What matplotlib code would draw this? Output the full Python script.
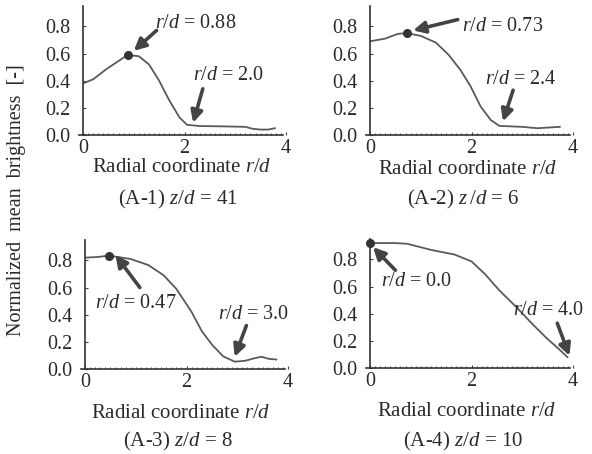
import matplotlib
matplotlib.use("Agg")
import matplotlib.pyplot as plt
from matplotlib.ticker import MultipleLocator, FixedLocator

plt.rcParams['font.family'] = ['Liberation Serif', 'DejaVu Serif']
plt.rcParams['mathtext.fontset'] = 'custom'
plt.rcParams['mathtext.rm'] = 'Liberation Serif'
plt.rcParams['mathtext.it'] = 'Liberation Serif:italic'

# ---------------- data ----------------
r1 = [0.0, 0.2, 0.46, 0.7, 0.88, 1.1, 1.3, 1.5, 1.7, 1.9, 2.05, 2.3, 2.7, 3.2, 3.35, 3.5, 3.65, 3.78]
v1 = [0.38, 0.41, 0.485, 0.545, 0.59, 0.58, 0.52, 0.40, 0.255, 0.13, 0.075, 0.066, 0.064, 0.06, 0.045, 0.04, 0.04, 0.05]

r2 = [0.0, 0.3, 0.55, 0.73, 1.0, 1.3, 1.55, 1.78, 1.98, 2.18, 2.38, 2.55, 3.0, 3.3, 3.74]
v2 = [0.69, 0.71, 0.745, 0.75, 0.73, 0.68, 0.59, 0.48, 0.36, 0.21, 0.11, 0.067, 0.06, 0.05, 0.06]

r3 = [0.0, 0.25, 0.47, 0.9, 1.25, 1.55, 1.8, 2.1, 2.3, 2.5, 2.72, 2.95, 3.15, 3.35, 3.48, 3.62, 3.77]
v3 = [0.82, 0.825, 0.835, 0.81, 0.765, 0.69, 0.59, 0.42, 0.28, 0.18, 0.094, 0.054, 0.06, 0.08, 0.09, 0.075, 0.07]

r4 = [0.0, 0.5, 0.73, 1.2, 1.67, 2.0, 2.27, 2.54, 2.88, 3.21, 3.48, 3.75, 3.89]
v4 = [0.92, 0.92, 0.915, 0.87, 0.835, 0.785, 0.69, 0.575, 0.45, 0.32, 0.22, 0.13, 0.08]

curves_r = [r1, r2, r3, r4]
curves_v = [v1, v2, v3, v4]
mark_r = [0.88, 0.73, 0.47, 0.0]
mark_v = [0.59, 0.75, 0.835, 0.92]

titles = ['(A-1) $z/d$ = 41', '(A-2) $z\\,/d$ = 6', '(A-3) $z/d$ = 8', '(A-4) $z/d$ = 10']
xlabel_text = 'Radial coordinate $r/d$'
ylabel_text = 'Normalized  mean  brightness  [-]'
xticks = [0, 2, 4]
yticks = [0.0, 0.2, 0.4, 0.6, 0.8]
ytick_labels = ['0.0', '0.2', '0.4', '0.6', '0.8']

# annotations: (label, text xy, arrow tail, arrow head)
annots = [
    [('$r/d$ = 0.88', (1.42, 0.82), (1.45, 0.77), (1.0, 0.62)),
     ('$r/d$ = 2.0', (2.17, 0.44), (2.36, 0.34), (2.17, 0.09))],
    [('$r/d$ = 0.73', (1.81, 0.80), (1.73, 0.85), (0.85, 0.77)),
     ('$r/d$ = 2.4', (2.27, 0.41), (2.82, 0.33), (2.62, 0.10))],
    [('$r/d$ = 0.47', (0.2, 0.48), (1.08, 0.60), (0.6, 0.84)),
     ('$r/d$ = 3.0', (2.62, 0.40), (3.18, 0.32), (2.95, 0.09))],
    [('$r/d$ = 0.0', (0.22, 0.64), (0.5, 0.72), (0.06, 0.89)),
     ('$r/d$ = 4.0', (2.82, 0.42), (3.69, 0.33), (3.93, 0.09))],
]

# ---------------- layout ----------------
W, H = 592, 454
fig = plt.figure(figsize=(W / 100, H / 100), dpi=100)
fig.patch.set_facecolor('white')

# axes boxes in pixels: left, top, width, height
boxes = [(83, 6, 203, 129), (370, 6, 203, 129), (85, 240, 203, 129), (370, 239, 203, 129)]
xlab_pos = [(182, 168), (468, 169), (181, 413), (467, 412)]
title_pos = [(178, 199), (463, 199), (178, 441), (463, 441)]

line_col = '#5a5a5a'
text_col = '#2a2a2a'
fs = 14.5
fs_lab = 15

for i in range(4):
    L, T, Wd, Ht = boxes[i]
    ax = fig.add_axes([L / W, 1 - (T + Ht) / H, Wd / W, Ht / H])
    ax.plot(curves_r[i], curves_v[i], color=line_col, lw=1.3)
    ax.plot([mark_r[i]], [mark_v[i]], 'o', color='#333333', ms=5.5, clip_on=False)
    ax.set_xlim(0, 4)
    ax.set_ylim(0, 0.95)
    for s in ['top', 'right']:
        ax.spines[s].set_visible(False)
    for s in ['left', 'bottom']:
        ax.spines[s].set_color('#333333')
        ax.spines[s].set_linewidth(1.2)
    ax.spines['bottom'].set_bounds(-0.08, 3.95)
    ax.xaxis.set_major_locator(FixedLocator(xticks))
    ax.xaxis.set_minor_locator(MultipleLocator(0.1))
    ax.set_yticks(yticks)
    ax.set_yticklabels(ytick_labels)
    ax.tick_params(axis='both', which='major', direction='in', length=2.5, width=0.8,
                   color='#444444', labelsize=fs, labelcolor=text_col)
    ax.tick_params(axis='y', which='major', pad=9)
    ax.tick_params(axis='x', which='major', pad=3)
    ax.tick_params(axis='x', which='minor', direction='in', length=1.8, width=0.7, color='#555555')
    ax.patch.set_alpha(0)
    for lab, txy, tail, head in annots[i]:
        ax.text(txy[0], txy[1], lab, fontsize=fs, color=text_col, ha='left', va='center',
                clip_on=False)
        ax.annotate('', xy=head, xytext=tail,
                    arrowprops=dict(arrowstyle='-|>,head_length=0.7,head_width=0.35',
                                    lw=2.6, color='#444444', shrinkA=0, shrinkB=0),
                    annotation_clip=False)
    fig.text(xlab_pos[i][0] / W, 1 - xlab_pos[i][1] / H, xlabel_text, fontsize=fs_lab,
             color=text_col, ha='center', va='center')
    fig.text(title_pos[i][0] / W, 1 - title_pos[i][1] / H, titles[i], fontsize=fs_lab,
             color=text_col, ha='center', va='center')

fig.text(17 / W, 1 - 200 / H, ylabel_text, rotation=90, fontsize=fs,
         color=text_col, ha='center', va='center')

fig.savefig('out.png', dpi=100)
